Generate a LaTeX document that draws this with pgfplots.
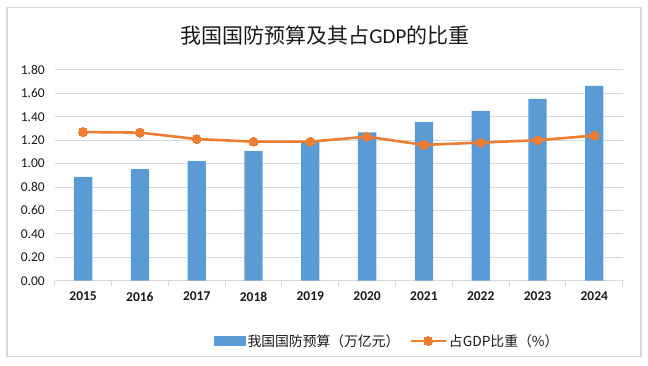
\documentclass[border=0pt]{standalone}
\usepackage{pgfplots}
\pgfplotsset{compat=1.18}
\usepackage{fontspec}
\setmainfont{Carlito}
\newfontfamily\cjk{Noto Sans CJK SC}
\definecolor{barblue}{HTML}{5B9BD5}
\definecolor{lineorange}{HTML}{ED7D31}
\definecolor{gridgray}{HTML}{D9D9D9}
\definecolor{txt}{HTML}{1A1A1A}
\pgfplotsset{
  barleg/.style={legend image code/.code={\fill[barblue] (0bp,-5bp) rectangle (32bp,5bp);}},
  lineleg/.style={legend image code/.code={\draw[mark repeat=2,mark phase=2,##1] plot coordinates {(0bp,0bp) (17.5bp,0bp) (35bp,0bp)};}},
}
\begin{document}
\begin{tikzpicture}
\useasboundingbox (0,0) rectangle (648bp,366bp);
\draw[gridgray, line width=1.3bp] (7bp,9.3bp) rectangle (641bp,358.7bp);
\node[text=txt, font=\fontsize{21bp}{24bp}\selectfont] at (325bp,330bp) {{\cjk 我国国防预算及其占}GDP{\cjk 的比重}};
\begin{axis}[
  at={(54.7bp,85.3bp)}, anchor=south west,
  scale only axis, width=568bp, height=210.7bp,
  xmin=-0.5, xmax=9.5, ymin=0, ymax=1.8,
  xtick={0,...,9},
  xticklabels={2015,2016,2017,2018,2019,2020,2021,2022,2023,2024},
  minor xtick={-0.5,0.5,...,9.5},
  ytick={0,0.2,...,1.8},
  /pgf/number format/assume math mode=true,
  yticklabel={\pgfmathprintnumber[fixed,fixed zerofill,precision=2]{\tick}},
  axis x line*=bottom, axis y line*=left,
  y axis line style={draw=none},
  x axis line style={draw=gridgray, line width=1bp},
  major tick length=0pt,
  minor tick length=5bp,
  tick align=outside,
  minor tick style={draw=gridgray, line width=1bp},
  ymajorgrids,
  major grid style={draw=gridgray, line width=1bp},
  tick label style={font=\fontsize{13.5bp}{15bp}\selectfont, text=txt},
  xticklabel style={font=\fontsize{13.5bp}{15bp}\selectfont\bfseries, anchor=north, inner sep=0pt, yshift=-11bp},
  yticklabel style={anchor=east, inner sep=0pt, xshift=-9.7bp},
  clip=false,
  legend columns=2,
  legend style={at={(axis description cs:0.585,-0.286)}, anchor=center, draw=none,
    font=\fontsize{13.8bp}{15bp}\selectfont\cjk, text=txt,
    /tikz/every even column/.append style={column sep=8bp},
    inner sep=0pt},
]
\addplot[ybar, bar width=18.3bp, fill=barblue, draw=none, barleg]
  coordinates {(0,0.886) (1,0.954) (2,1.022) (3,1.108) (4,1.188) (5,1.268) (6,1.355) (7,1.450) (8,1.554) (9,1.665)};
\addlegendentry{我国国防预算（万亿元）}
\addplot[lineorange, line width=2.6bp, mark=*, mark size=4.5bp, mark options={fill=lineorange, draw=lineorange, line width=0pt}, lineleg]
  coordinates {(0,1.27) (1,1.265) (2,1.21) (3,1.188) (4,1.188) (5,1.23) (6,1.16) (7,1.18) (8,1.20) (9,1.24)};
\addlegendentry{占GDP比重（\%）}
\end{axis}
\end{tikzpicture}
\end{document}
